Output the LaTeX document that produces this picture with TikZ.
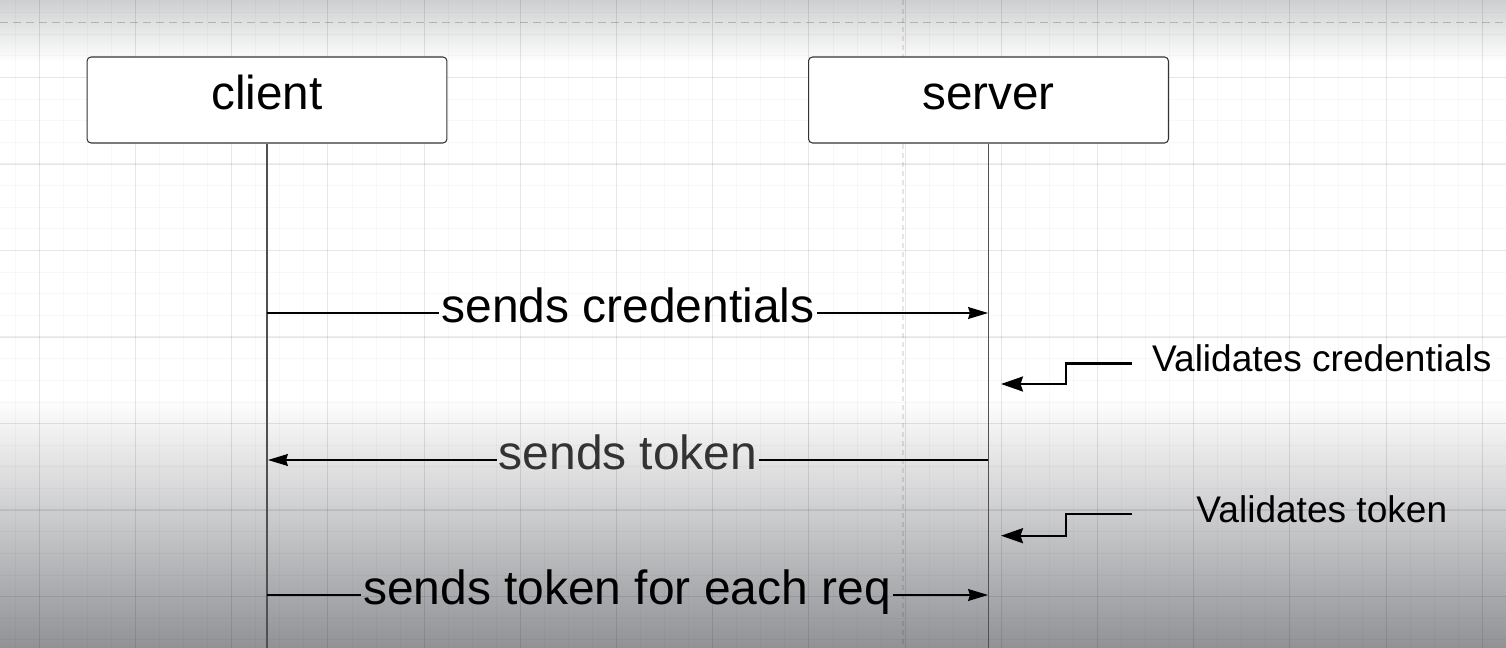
\documentclass[tikz,border=0pt]{standalone}
\usepackage{fontspec}
\setmainfont{Liberation Sans}
\usetikzlibrary{arrows.meta}
\definecolor{topgray}{RGB}{206,207,208}
\definecolor{botgray}{RGB}{145,146,150}
\definecolor{lifegray}{RGB}{80,80,80}
\begin{document}
\begin{tikzpicture}[x=0.02cm, y=-0.02cm,
		>={Stealth[length=0.4cm, width=0.24cm, inset=0.04cm]},
		gridminor/.style={black, opacity=0.028, line width=0.5pt},
		gridmajor/.style={black, opacity=0.07, line width=0.6pt},
		lifebox/.style={draw=black!80, line width=0.6pt, fill=white, rounded corners=0.08cm, minimum width=7.2cm, minimum height=1.72cm, font=\fontsize{27.1}{30}\selectfont, text height=17.8pt, text depth=7.5pt},
		lifeline/.style={draw=lifegray, line width=1.1pt},
		msglabel/.style={inner xsep=1pt, font=\fontsize{27.3}{30}\selectfont, text height=17.8pt, text depth=7.5pt},
		msg/.style={line width=0.65pt},
		notelabel/.style={anchor=west, inner xsep=0pt, minimum width=7.58cm, font=\fontsize{21.1}{24}\selectfont, text height=14.9pt, text depth=5.8pt},
		elbow/.style={line width=1.3pt, -{Stealth[length=0.44cm, width=0.3cm, inset=0.05cm]}}]
		\useasboundingbox (0,0) rectangle (1506,648);
		% background of the screenshot
		\fill[white] (0,0) rectangle (1506,648);
		\shade[top color=topgray, bottom color=white] (0,0) rectangle (1506,62);
		\shade[top color=white, bottom color=botgray] (0,398) rectangle (1506,648);
		\foreach \gx in {0,...,62} \draw[gridminor] ({15.25+24.05*\gx},0) -- ({15.25+24.05*\gx},648);
		\foreach \gy in {0,...,29} \draw[gridminor] (0,{12.6+21.63*\gy}) -- (1506,{12.6+21.63*\gy});
		\foreach \gx in {0,...,15} \draw[gridmajor] ({39.3+96.2*\gx},0) -- ({39.3+96.2*\gx},648);
		\foreach \gy in {0,...,6} \draw[gridmajor] (0,{77.5+86.5*\gy}) -- (1506,{77.5+86.5*\gy});
		\draw[black, opacity=0.2, dash pattern=on 0.16cm off 0.1cm, line width=0.6pt] (0,22.7) -- (1506,22.7);
		\draw[black, opacity=0.1, dash pattern=on 0.1cm off 0.08cm, line width=0.6pt] (903,0) -- (903,648);
		% actors and lifelines
		\node[lifebox] (client) at (267,100) {client};
		\node[lifebox] (server) at (988.5,100) {server};
		\coordinate (clientend) at (267,648);
		\coordinate (serverend) at (988.5,648);
		\draw[lifeline] (client.south) -- (clientend);
		\draw[lifeline] (server.south) -- (serverend);
		% messages
		\coordinate (credfrom) at (267,313);
		\coordinate (credto) at (988,313);
		\node[msglabel] (credlabel) at (628,313) {sends credentials};
		\draw[msg] (credfrom) -- (credlabel.west);
		\draw[msg, ->] (credlabel.east) -- (credto);
		\coordinate (tokenfrom) at (988,460);
		\coordinate (tokento) at (268,460);
		\node[msglabel, text=black!80] (tokenlabel) at (628,460) {sends token};
		\draw[msg] (tokenfrom) -- (tokenlabel.east);
		\draw[msg, ->] (tokenlabel.west) -- (tokento);
		\coordinate (reqfrom) at (267,595);
		\coordinate (reqto) at (988,595);
		\node[msglabel] (reqlabel) at (627,595) {sends token for each req};
		\draw[msg] (reqfrom) -- (reqlabel.west);
		\draw[msg, ->] (reqlabel.east) -- (reqto);
		% notes on the server side
		\node[notelabel] (valcred) at (1132,363.5) {Validates credentials};
		\coordinate (valcredtip) at (1001,384);
		\draw[elbow] (valcred.west) -- ++(-66,0) |- (valcredtip);
		\node[notelabel] (valtoken) at (1132,514.3) {Validates token};
		\coordinate (valtokentip) at (1001,535.7);
		\draw[elbow] (valtoken.west) -- ++(-66,0) |- (valtokentip);
\end{tikzpicture}
\end{document}
